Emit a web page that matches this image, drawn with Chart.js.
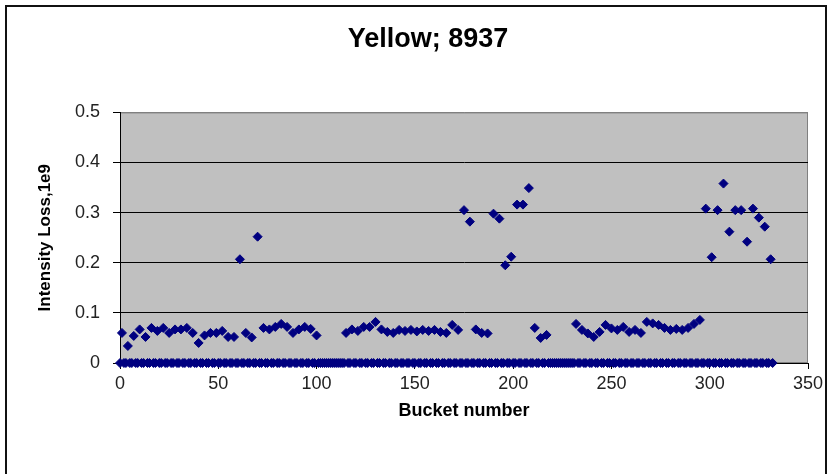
<!DOCTYPE html>
<html>
<head>
<meta charset="utf-8">
<title>Yellow; 8937</title>
<script src="https://cdn.jsdelivr.net/npm/chart.js@4.4.1/dist/chart.umd.min.js"></script>
<style>
  html, body { margin: 0; padding: 0; background: #fff; }
  #wrap { position: relative; width: 833px; height: 474px; overflow: hidden; }
  #lossChart { position: absolute; left: 0; top: 0; }
  #frame { position: absolute; left: 5px; top: 5px; width: 822px; height: 490px;
           border: 2px solid #111; box-sizing: border-box; pointer-events: none; }
</style>
</head>
<body>
<div id="wrap">
  <canvas id="lossChart" width="833" height="474"></canvas>
  <div id="frame"></div>
</div>
<script>
// ===== DATA =====
const chartTitle = 'Yellow; 8937';
const bucketCount = 333;

// filled buckets (every third one, with two abort-gap holes)
const filledBuckets = [
  1, 4, 7, 10, 13, 16, 19, 22, 25, 28, 31, 34, 37, 40, 43, 46, 49,
  52, 55, 58, 61, 64, 67, 70, 73, 76, 79, 82, 85, 88, 91, 94, 97, 100,
  115, 118, 121, 124, 127, 130, 133, 136, 139, 142, 145, 148, 151, 154,
  157, 160, 163, 166, 169, 172, 175, 178, 181, 184, 187, 190, 193, 196,
  199, 202, 205, 208, 211, 214, 217,
  232, 235, 238, 241, 244, 247, 250, 253, 256, 259, 262, 265, 268, 271,
  274, 277, 280, 283, 286, 289, 292, 295, 298, 301, 304, 307, 310, 313,
  316, 319, 322, 325, 328, 331
];

// intensity loss per filled bucket, units of 1e9
const lossValues = [
  0.060, 0.034, 0.054, 0.067, 0.052, 0.070, 0.064, 0.070, 0.060, 0.067, 0.067, 0.070,
  0.060, 0.040, 0.055, 0.060, 0.060, 0.064, 0.052, 0.052, 0.207, 0.060, 0.051, 0.252,
  0.070, 0.067, 0.072, 0.078, 0.072, 0.060, 0.067, 0.072, 0.068, 0.055,
  0.060, 0.067, 0.064, 0.072, 0.072, 0.082, 0.067, 0.062, 0.060, 0.066, 0.064, 0.066,
  0.063, 0.066, 0.064, 0.066, 0.062, 0.060, 0.076, 0.066, 0.305, 0.282, 0.067, 0.060,
  0.059, 0.298, 0.288, 0.195, 0.212, 0.316, 0.316, 0.349, 0.070, 0.050, 0.056,
  0.078, 0.066, 0.059, 0.052, 0.062, 0.076, 0.069, 0.066, 0.072, 0.062, 0.066, 0.060,
  0.082, 0.079, 0.076, 0.070, 0.066, 0.068, 0.066, 0.070, 0.078, 0.086, 0.308, 0.211,
  0.305, 0.358, 0.262, 0.305, 0.305, 0.242, 0.308, 0.290, 0.272, 0.207
];

const xTickValues = [0, 50, 100, 150, 200, 250, 300, 350];
const yTickValues = [0, 0.1, 0.2, 0.3, 0.4, 0.5];

// ===== POINTS =====
const lossPoints = filledBuckets.map((b, i) => ({ x: b, y: lossValues[i] }));
const emptyPoints = [];
for (let b = 0; b < bucketCount; b++) {
  if (!filledBuckets.includes(b)) emptyPoints.push({ x: b, y: 0 });
}

const NAVY = '#000080';
const markerStyle = {
  showLine: false,
  pointStyle: 'rectRot',
  pointRadius: 4.5,
  pointBorderWidth: 1,
  backgroundColor: NAVY,
  borderColor: NAVY,
  clip: false
};

// grey plot area with a thin grey frame (Excel look)
const plotBackground = {
  id: 'plotBackground',
  beforeDraw(chart) {
    const { ctx, chartArea: a } = chart;
    ctx.save();
    ctx.fillStyle = '#c0c0c0';
    ctx.fillRect(a.left, a.top, a.right - a.left, a.bottom - a.top);
    ctx.strokeStyle = '#808080';
    ctx.lineWidth = 1;
    ctx.strokeRect(a.left + 0.5, a.top + 0.5, a.right - a.left - 1, a.bottom - a.top - 1);
    ctx.restore();
  }
};

const FAMILY = 'Arial, "Liberation Sans", sans-serif';
const tickFont = { family: FAMILY, size: 18 };

new Chart(document.getElementById('lossChart'), {
  type: 'scatter',
  data: {
    datasets: [
      Object.assign({ label: 'empty', data: emptyPoints }, markerStyle),
      Object.assign({ label: 'loss', data: lossPoints }, markerStyle)
    ]
  },
  options: {
    responsive: false,
    animation: false,
    // left padding pushes the centred title a bit to the right
    layout: { padding: { left: 48, right: 25, top: 0, bottom: 0 } },
    plugins: {
      legend: { display: false },
      tooltip: { enabled: false },
      title: {
        display: true,
        text: chartTitle,
        color: '#000',
        font: { family: FAMILY, size: 27, weight: 'bold' },
        padding: { top: 23, bottom: 57 }
      }
    },
    scales: {
      x: {
        type: 'linear',
        min: xTickValues[0],
        max: xTickValues[xTickValues.length - 1],
        afterBuildTicks: s => { s.ticks = xTickValues.map(v => ({ value: v })); },
        afterFit: s => { s.height = 111; },
        grid: { drawOnChartArea: false, drawTicks: true, tickLength: 6, tickColor: '#000' },
        border: { color: '#000', width: 1 },
        ticks: { color: '#222', font: tickFont, padding: 4, maxRotation: 0, autoSkip: false },
        title: {
          display: true, text: 'Bucket number', color: '#000',
          font: { family: FAMILY, size: 18, weight: 'bold' },
          padding: { top: 0, bottom: 52 }
        }
      },
      y: {
        type: 'linear',
        min: yTickValues[0],
        max: yTickValues[yTickValues.length - 1],
        afterBuildTicks: s => { s.ticks = yTickValues.map(v => ({ value: v })); },
        afterFit: s => { s.width = 72; },
        grid: {
          color: c => (c.tick && c.tick.value === 0.5 ? '#808080' : '#000'),
          tickColor: '#000',
          tickLength: 7,
          lineWidth: 1
        },
        border: { color: '#000', width: 1 },
        ticks: { color: '#222', font: tickFont, padding: 13 },
        title: {
          display: true, text: 'Intensity Loss,1e9', color: '#000',
          font: { family: FAMILY, size: 17, weight: 'bold' },
          padding: { top: -13, bottom: 0 }
        }
      }
    }
  },
  plugins: [plotBackground]
});
</script>
</body>
</html>
